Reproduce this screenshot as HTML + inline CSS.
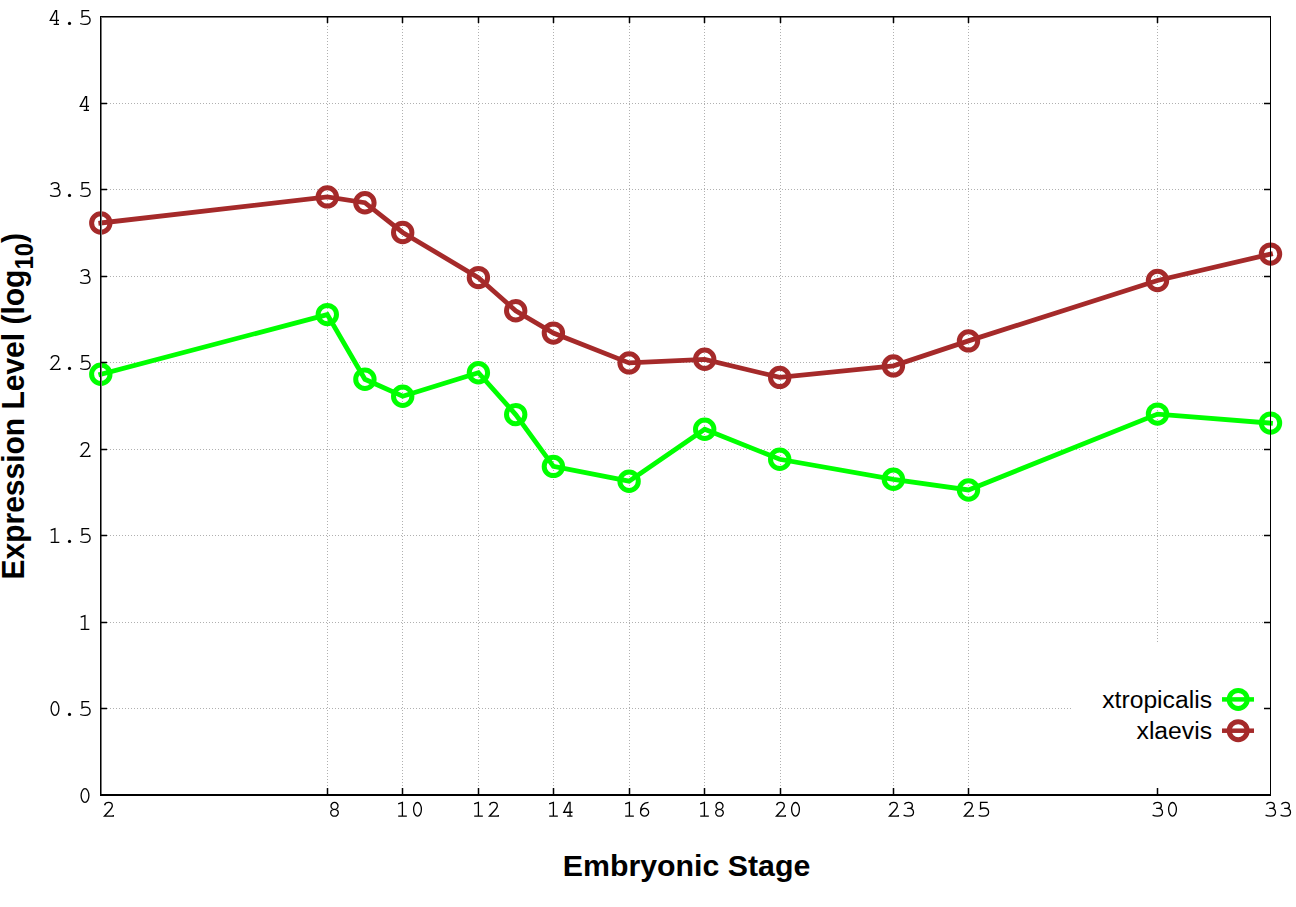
<!DOCTYPE html><html><head><meta charset="utf-8"><title>Expression Level</title><style>html,body{margin:0;padding:0;background:#fff;overflow:hidden;}svg{display:block;}</style></head><body>
<svg width="1296" height="907" viewBox="0 0 1296 907">
<rect x="0" y="0" width="1296" height="907" fill="#fff"/>
<path d="M101 708.5H1270 M101 622.5H1270 M101 535.5H1270 M101 449.5H1270 M101 362.5H1270 M101 276.5H1270 M101 189.5H1270 M101 103.5H1270 M327.5 17V795 M402.5 17V795 M478.5 17V795 M553.5 17V795 M629.5 17V795 M704.5 17V795 M780.5 17V795 M893.5 17V795 M968.5 17V795 M1157.5 17V795" stroke="#b0b0b0" stroke-width="1" stroke-dasharray="1 2" fill="none" shape-rendering="crispEdges"/>
<rect x="1071" y="642" width="199" height="153" fill="#fff"/>
<polyline points="100.8,374.3 327.3,314.6 364.9,379.3 402.7,396.3 478.4,372.7 515.7,414.6 553.4,466.4 629.1,481.2 704.7,429.2 779.7,459.3 893.4,479.3 968.5,490.0 1157.5,414.1 1270.5,423.1" fill="none" stroke="#00ff00" stroke-width="4.8" stroke-linejoin="miter" stroke-linecap="square"/>
<circle cx="100.8" cy="374.3" r="9.2" fill="none" stroke="#00ff00" stroke-width="5"/>
<circle cx="327.3" cy="314.6" r="9.2" fill="none" stroke="#00ff00" stroke-width="5"/>
<circle cx="364.9" cy="379.3" r="9.2" fill="none" stroke="#00ff00" stroke-width="5"/>
<circle cx="402.7" cy="396.3" r="9.2" fill="none" stroke="#00ff00" stroke-width="5"/>
<circle cx="478.4" cy="372.7" r="9.2" fill="none" stroke="#00ff00" stroke-width="5"/>
<circle cx="515.7" cy="414.6" r="9.2" fill="none" stroke="#00ff00" stroke-width="5"/>
<circle cx="553.4" cy="466.4" r="9.2" fill="none" stroke="#00ff00" stroke-width="5"/>
<circle cx="629.1" cy="481.2" r="9.2" fill="none" stroke="#00ff00" stroke-width="5"/>
<circle cx="704.7" cy="429.2" r="9.2" fill="none" stroke="#00ff00" stroke-width="5"/>
<circle cx="779.7" cy="459.3" r="9.2" fill="none" stroke="#00ff00" stroke-width="5"/>
<circle cx="893.4" cy="479.3" r="9.2" fill="none" stroke="#00ff00" stroke-width="5"/>
<circle cx="968.5" cy="490.0" r="9.2" fill="none" stroke="#00ff00" stroke-width="5"/>
<circle cx="1157.5" cy="414.1" r="9.2" fill="none" stroke="#00ff00" stroke-width="5"/>
<circle cx="1270.5" cy="423.1" r="9.2" fill="none" stroke="#00ff00" stroke-width="5"/>
<polyline points="100.8,223.0 327.3,196.9 364.9,202.7 402.7,232.5 478.4,277.6 515.7,310.7 553.4,333.1 629.1,362.9 704.7,359.3 779.7,377.4 893.4,365.9 968.5,340.9 1157.5,280.5 1270.5,254.1" fill="none" stroke="#a52a2a" stroke-width="4.8" stroke-linejoin="miter" stroke-linecap="square"/>
<circle cx="100.8" cy="223.0" r="9.2" fill="none" stroke="#a52a2a" stroke-width="5"/>
<circle cx="327.3" cy="196.9" r="9.2" fill="none" stroke="#a52a2a" stroke-width="5"/>
<circle cx="364.9" cy="202.7" r="9.2" fill="none" stroke="#a52a2a" stroke-width="5"/>
<circle cx="402.7" cy="232.5" r="9.2" fill="none" stroke="#a52a2a" stroke-width="5"/>
<circle cx="478.4" cy="277.6" r="9.2" fill="none" stroke="#a52a2a" stroke-width="5"/>
<circle cx="515.7" cy="310.7" r="9.2" fill="none" stroke="#a52a2a" stroke-width="5"/>
<circle cx="553.4" cy="333.1" r="9.2" fill="none" stroke="#a52a2a" stroke-width="5"/>
<circle cx="629.1" cy="362.9" r="9.2" fill="none" stroke="#a52a2a" stroke-width="5"/>
<circle cx="704.7" cy="359.3" r="9.2" fill="none" stroke="#a52a2a" stroke-width="5"/>
<circle cx="779.7" cy="377.4" r="9.2" fill="none" stroke="#a52a2a" stroke-width="5"/>
<circle cx="893.4" cy="365.9" r="9.2" fill="none" stroke="#a52a2a" stroke-width="5"/>
<circle cx="968.5" cy="340.9" r="9.2" fill="none" stroke="#a52a2a" stroke-width="5"/>
<circle cx="1157.5" cy="280.5" r="9.2" fill="none" stroke="#a52a2a" stroke-width="5"/>
<circle cx="1270.5" cy="254.1" r="9.2" fill="none" stroke="#a52a2a" stroke-width="5"/>
<g shape-rendering="crispEdges"><rect x="100" y="16" width="1171" height="1" fill="#000"/><rect x="101" y="17" width="1169" height="1" fill="#777"/><rect x="100" y="16" width="1" height="780" fill="#000"/><rect x="101" y="17" width="1" height="777" fill="#777"/><rect x="100" y="794" width="1171" height="2" fill="#000"/><rect x="1270" y="16" width="1" height="780" fill="#000"/></g>
<path d="M101 708.5H107 M1264 708.5H1270 M101 622.5H107 M1264 622.5H1270 M101 535.5H107 M1264 535.5H1270 M101 449.5H107 M1264 449.5H1270 M101 362.5H107 M1264 362.5H1270 M101 276.5H107 M1264 276.5H1270 M101 189.5H107 M1264 189.5H1270 M101 103.5H107 M1264 103.5H1270 M327.5 794V788 M327.5 17V23 M402.5 794V788 M402.5 17V23 M478.5 794V788 M478.5 17V23 M553.5 794V788 M553.5 17V23 M629.5 794V788 M629.5 17V23 M704.5 794V788 M704.5 17V23 M780.5 794V788 M780.5 17V23 M893.5 794V788 M893.5 17V23 M968.5 794V788 M968.5 17V23 M1157.5 794V788 M1157.5 17V23" stroke="#000" stroke-width="1.5" fill="none"/>
<g fill="none" stroke="#000" stroke-width="1.3"><path transform="translate(78.00 803.00)" d="M7 -14.3A3.9 6.85 0 1 0 7 -0.6A3.9 6.85 0 1 0 7 -14.3Z"/><path transform="translate(48.00 716.00)" d="M7 -14.3A3.9 6.85 0 1 0 7 -0.6A3.9 6.85 0 1 0 7 -14.3Z"/><circle cx="69.50" cy="714.40" r="1.6" fill="#000" stroke="none"/><path transform="translate(78.00 716.00)" d="M11.2 -14.35H4.06V-7.94C5 -8.6 6.2 -8.8 7.4 -8.8C10.1 -8.8 12.1 -7.1 12.1 -4.7C12.1 -2.3 10.1 -0.6 7.2 -0.6C5.2 -0.6 3.4 -1.1 2.2 -1.5"/><path transform="translate(78.00 630.00)" d="M2.7 -12.9L6.9 -14.35V-0.6M2.7 -0.6H11.35"/><path transform="translate(48.00 543.00)" d="M2.7 -12.9L6.9 -14.35V-0.6M2.7 -0.6H11.35"/><circle cx="69.50" cy="541.40" r="1.6" fill="#000" stroke="none"/><path transform="translate(78.00 543.00)" d="M11.2 -14.35H4.06V-7.94C5 -8.6 6.2 -8.8 7.4 -8.8C10.1 -8.8 12.1 -7.1 12.1 -4.7C12.1 -2.3 10.1 -0.6 7.2 -0.6C5.2 -0.6 3.4 -1.1 2.2 -1.5"/><path transform="translate(78.00 457.00)" d="M3.06 -11.5C3.6 -13.3 5.2 -14.35 7.13 -14.35C9.2 -14.35 10.8 -12.8 10.8 -10.9C10.8 -9 9.3 -7.6 7.4 -5.6L2.93 -0.6H11.8V-1.9"/><path transform="translate(48.00 370.00)" d="M3.06 -11.5C3.6 -13.3 5.2 -14.35 7.13 -14.35C9.2 -14.35 10.8 -12.8 10.8 -10.9C10.8 -9 9.3 -7.6 7.4 -5.6L2.93 -0.6H11.8V-1.9"/><circle cx="69.50" cy="368.40" r="1.6" fill="#000" stroke="none"/><path transform="translate(78.00 370.00)" d="M11.2 -14.35H4.06V-7.94C5 -8.6 6.2 -8.8 7.4 -8.8C10.1 -8.8 12.1 -7.1 12.1 -4.7C12.1 -2.3 10.1 -0.6 7.2 -0.6C5.2 -0.6 3.4 -1.1 2.2 -1.5"/><path transform="translate(78.00 284.00)" d="M2.82 -12.5C3.8 -13.7 5.2 -14.35 6.9 -14.35C9.2 -14.35 10.85 -13 10.85 -11.15C10.85 -9.6 9.8 -8.5 8 -8.4H5.66M8 -8.4C10.4 -8.2 12 -6.6 12 -4.5C12 -2.2 10 -0.6 7 -0.6C5 -0.6 3.3 -1 2.08 -1.6"/><path transform="translate(48.00 197.00)" d="M2.82 -12.5C3.8 -13.7 5.2 -14.35 6.9 -14.35C9.2 -14.35 10.85 -13 10.85 -11.15C10.85 -9.6 9.8 -8.5 8 -8.4H5.66M8 -8.4C10.4 -8.2 12 -6.6 12 -4.5C12 -2.2 10 -0.6 7 -0.6C5 -0.6 3.3 -1 2.08 -1.6"/><circle cx="69.50" cy="195.40" r="1.6" fill="#000" stroke="none"/><path transform="translate(78.00 197.00)" d="M11.2 -14.35H4.06V-7.94C5 -8.6 6.2 -8.8 7.4 -8.8C10.1 -8.8 12.1 -7.1 12.1 -4.7C12.1 -2.3 10.1 -0.6 7.2 -0.6C5.2 -0.6 3.4 -1.1 2.2 -1.5"/><path transform="translate(78.00 111.00)" d="M8.56 -0.6V-14.35H7.5L2.25 -4.55H11M5.65 -0.6H11"/><path transform="translate(48.00 25.00)" d="M8.56 -0.6V-14.35H7.5L2.25 -4.55H11M5.65 -0.6H11"/><circle cx="69.50" cy="23.40" r="1.6" fill="#000" stroke="none"/><path transform="translate(78.00 25.00)" d="M11.2 -14.35H4.06V-7.94C5 -8.6 6.2 -8.8 7.4 -8.8C10.1 -8.8 12.1 -7.1 12.1 -4.7C12.1 -2.3 10.1 -0.6 7.2 -0.6C5.2 -0.6 3.4 -1.1 2.2 -1.5"/><path transform="translate(101.50 816.80)" d="M3.06 -11.5C3.6 -13.3 5.2 -14.35 7.13 -14.35C9.2 -14.35 10.8 -12.8 10.8 -10.9C10.8 -9 9.3 -7.6 7.4 -5.6L2.93 -0.6H11.8V-1.9"/><path transform="translate(327.50 816.80)" d="M7 -14.36A3.5 3.46 0 1 0 7 -7.44A3.5 3.46 0 1 0 7 -14.36ZM7 -7.5A3.8 3.45 0 1 0 7 -0.6A3.8 3.45 0 1 0 7 -7.5Z"/><path transform="translate(395.50 816.80)" d="M2.7 -12.9L6.9 -14.35V-0.6M2.7 -0.6H11.35"/><path transform="translate(410.50 816.80)" d="M7 -14.3A3.9 6.85 0 1 0 7 -0.6A3.9 6.85 0 1 0 7 -14.3Z"/><path transform="translate(471.50 816.80)" d="M2.7 -12.9L6.9 -14.35V-0.6M2.7 -0.6H11.35"/><path transform="translate(486.50 816.80)" d="M3.06 -11.5C3.6 -13.3 5.2 -14.35 7.13 -14.35C9.2 -14.35 10.8 -12.8 10.8 -10.9C10.8 -9 9.3 -7.6 7.4 -5.6L2.93 -0.6H11.8V-1.9"/><path transform="translate(546.50 816.80)" d="M2.7 -12.9L6.9 -14.35V-0.6M2.7 -0.6H11.35"/><path transform="translate(561.50 816.80)" d="M8.56 -0.6V-14.35H7.5L2.25 -4.55H11M5.65 -0.6H11"/><path transform="translate(622.50 816.80)" d="M2.7 -12.9L6.9 -14.35V-0.6M2.7 -0.6H11.35"/><path transform="translate(637.50 816.80)" d="M11 -14.35C6.3 -14.2 3.05 -10.8 3.05 -4.6M3.05 -4.55A4.05 3.95 0 1 0 11.15 -4.55A4.05 3.95 0 1 0 3.05 -4.55Z"/><path transform="translate(697.50 816.80)" d="M2.7 -12.9L6.9 -14.35V-0.6M2.7 -0.6H11.35"/><path transform="translate(712.50 816.80)" d="M7 -14.36A3.5 3.46 0 1 0 7 -7.44A3.5 3.46 0 1 0 7 -14.36ZM7 -7.5A3.8 3.45 0 1 0 7 -0.6A3.8 3.45 0 1 0 7 -7.5Z"/><path transform="translate(773.50 816.80)" d="M3.06 -11.5C3.6 -13.3 5.2 -14.35 7.13 -14.35C9.2 -14.35 10.8 -12.8 10.8 -10.9C10.8 -9 9.3 -7.6 7.4 -5.6L2.93 -0.6H11.8V-1.9"/><path transform="translate(788.50 816.80)" d="M7 -14.3A3.9 6.85 0 1 0 7 -0.6A3.9 6.85 0 1 0 7 -14.3Z"/><path transform="translate(886.50 816.80)" d="M3.06 -11.5C3.6 -13.3 5.2 -14.35 7.13 -14.35C9.2 -14.35 10.8 -12.8 10.8 -10.9C10.8 -9 9.3 -7.6 7.4 -5.6L2.93 -0.6H11.8V-1.9"/><path transform="translate(901.50 816.80)" d="M2.82 -12.5C3.8 -13.7 5.2 -14.35 6.9 -14.35C9.2 -14.35 10.85 -13 10.85 -11.15C10.85 -9.6 9.8 -8.5 8 -8.4H5.66M8 -8.4C10.4 -8.2 12 -6.6 12 -4.5C12 -2.2 10 -0.6 7 -0.6C5 -0.6 3.3 -1 2.08 -1.6"/><path transform="translate(961.50 816.80)" d="M3.06 -11.5C3.6 -13.3 5.2 -14.35 7.13 -14.35C9.2 -14.35 10.8 -12.8 10.8 -10.9C10.8 -9 9.3 -7.6 7.4 -5.6L2.93 -0.6H11.8V-1.9"/><path transform="translate(976.50 816.80)" d="M11.2 -14.35H4.06V-7.94C5 -8.6 6.2 -8.8 7.4 -8.8C10.1 -8.8 12.1 -7.1 12.1 -4.7C12.1 -2.3 10.1 -0.6 7.2 -0.6C5.2 -0.6 3.4 -1.1 2.2 -1.5"/><path transform="translate(1150.50 816.80)" d="M2.82 -12.5C3.8 -13.7 5.2 -14.35 6.9 -14.35C9.2 -14.35 10.85 -13 10.85 -11.15C10.85 -9.6 9.8 -8.5 8 -8.4H5.66M8 -8.4C10.4 -8.2 12 -6.6 12 -4.5C12 -2.2 10 -0.6 7 -0.6C5 -0.6 3.3 -1 2.08 -1.6"/><path transform="translate(1165.50 816.80)" d="M7 -14.3A3.9 6.85 0 1 0 7 -0.6A3.9 6.85 0 1 0 7 -14.3Z"/><path transform="translate(1263.50 816.80)" d="M2.82 -12.5C3.8 -13.7 5.2 -14.35 6.9 -14.35C9.2 -14.35 10.85 -13 10.85 -11.15C10.85 -9.6 9.8 -8.5 8 -8.4H5.66M8 -8.4C10.4 -8.2 12 -6.6 12 -4.5C12 -2.2 10 -0.6 7 -0.6C5 -0.6 3.3 -1 2.08 -1.6"/><path transform="translate(1278.50 816.80)" d="M2.82 -12.5C3.8 -13.7 5.2 -14.35 6.9 -14.35C9.2 -14.35 10.85 -13 10.85 -11.15C10.85 -9.6 9.8 -8.5 8 -8.4H5.66M8 -8.4C10.4 -8.2 12 -6.6 12 -4.5C12 -2.2 10 -0.6 7 -0.6C5 -0.6 3.3 -1 2.08 -1.6"/></g>
<text x="686.5" y="876.3" text-anchor="middle" font-family="Liberation Sans" font-weight="bold" font-size="30.3" fill="#000">Embryonic Stage</text>
<text transform="translate(24.2,579.5) rotate(-90) scale(1,1.07)" x="0" y="0" font-family="Liberation Sans" font-weight="bold" font-size="30" fill="#000">Expression Level (log<tspan font-size="24" dy="8.5">10</tspan><tspan dy="-8.5">)</tspan></text>
<text x="1212" y="707.5" text-anchor="end" font-family="Liberation Sans" font-size="24.7" fill="#000">xtropicalis</text>
<text x="1212" y="738.5" text-anchor="end" font-family="Liberation Sans" font-size="24.7" fill="#000">xlaevis</text>
<path d="M1222 699.4H1254" stroke="#00ff00" stroke-width="4.5"/>
<circle cx="1238.2" cy="699.4" r="9" fill="none" stroke="#00ff00" stroke-width="5"/>
<path d="M1222 730.7H1254" stroke="#a52a2a" stroke-width="4.5"/>
<circle cx="1238.2" cy="730.7" r="9" fill="none" stroke="#a52a2a" stroke-width="5"/>
</svg></body></html>
